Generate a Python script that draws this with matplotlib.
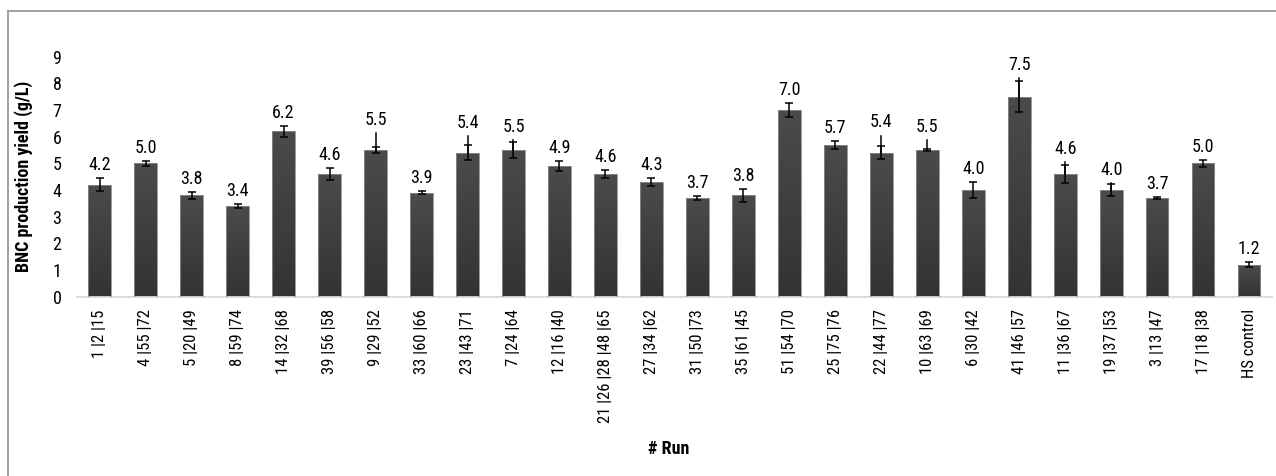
import numpy as np
import matplotlib
matplotlib.use("Agg")
from matplotlib import pyplot as plt
from matplotlib.lines import Line2D
from matplotlib.colors import LinearSegmentedColormap

plt.rcParams['font.family'] = ['Roboto Condensed', 'DejaVu Sans']

# runs grouped by identical conditions, plus the HS medium control
runs = ["1 |2 |15", "4 |55 |72", "5 |20 |49", "8 |59 |74", "14 |32 |68", "39 |56 |58",
        "9 |29 |52", "33 |60 |66", "23 |43 |71", "7 |24 |64", "12 |16 |40",
        "21 |26 |28 |48 |65", "27 |34 |62", "31 |50 |73", "35 |61 |45", "51 |54 |70",
        "25 |75 |76", "22 |44 |77", "10 |63 |69", "6 |30 |42", "41 |46 |57",
        "11 |36 |67", "19 |37 |53", "3 |13 |47", "17 |18 |38", "HS control"]
yield_gl = [4.2, 5.0, 3.8, 3.4, 6.2, 4.6, 5.5, 3.9, 5.4, 5.5, 4.9, 4.6, 4.3, 3.7, 3.8,
            7.0, 5.7, 5.4, 5.5, 4.0, 7.5, 4.6, 4.0, 3.7, 5.0, 1.2]
sd = [0.24, 0.09, 0.12, 0.07, 0.21, 0.21, 0.13, 0.05, 0.27, 0.30, 0.20, 0.15, 0.15,
      0.06, 0.25, 0.25, 0.15, 0.24, 0.05, 0.30, 0.57, 0.32, 0.23, 0.04, 0.13, 0.10]
# upper whisker without cap (None = no extra line)
whisker_top = [None, None, None, None, None, None, 6.12, None, 6.03, 5.88, None, None,
               None, None, None, None, None, 6.04, 5.88, None, 8.2, 5.04, 4.27, None,
               None, None]

fig = plt.figure(figsize=(12.76, 4.76), dpi=100)
ax = fig.add_axes([0.0601, 0.3767, 0.9369, 0.5042])

x = np.arange(len(runs))
width = 0.49
bars = ax.bar(x, yield_gl, width, facecolor='none', edgecolor='#8c8c8c', linewidth=0.6, zorder=3)

# vertical shading inside each bar
grad = np.linspace(0, 1, 256).reshape(-1, 1)
shade = LinearSegmentedColormap.from_list('shade', ['#4b4b4b', '#333333'])
for b in bars:
    im = ax.imshow(grad, extent=[b.get_x(), b.get_x() + b.get_width(), 0, b.get_height()],
                   cmap=shade, aspect='auto', origin='upper', zorder=2)
    im.set_clip_path(b)

ax.errorbar(x, yield_gl, yerr=sd, fmt='none', ecolor='black', elinewidth=1.1,
            capsize=3.2, capthick=1.1, zorder=4)
for i, w in enumerate(whisker_top):
    if w is not None:
        ax.plot([i, i], [yield_gl[i], w], color='black', lw=1.1, zorder=4)

for i, v in enumerate(yield_gl):
    top = v + sd[i]
    if whisker_top[i] is not None:
        top = max(top, whisker_top[i])
    ax.annotate("%.1f" % v, (i, top), xytext=(0, 3), textcoords='offset points',
                ha='center', va='bottom', fontsize=13, color='black')

ax.set_xlim(-0.5, len(runs) - 0.5)
ax.set_ylim(0, 9)
ax.set_yticks(range(0, 10))
ax.set_xticks(x)
ax.set_xticklabels(runs, rotation=90, fontsize=12)
ax.tick_params(axis='y', length=0, pad=11, labelsize=13)
ax.tick_params(axis='x', length=0, pad=9)

for s in ['top', 'right', 'left']:
    ax.spines[s].set_visible(False)
ax.spines['bottom'].set_color('#d9d9d9')
ax.spines['bottom'].set_linewidth(1.3)

ax.set_ylabel("BNC production yield (g/L)", fontsize=13, fontweight='bold')
ax.yaxis.set_label_coords(-0.0366, 0.5)
ax.set_xlabel("# Run", fontsize=13, fontweight='bold')
ax.xaxis.set_label_coords(0.495, -0.597)

# outer chart frame
fig.add_artist(Line2D([0.0063, 1.0], [0.977, 0.977], color='#999999', lw=1.3, transform=fig.transFigure))
fig.add_artist(Line2D([0.0063, 0.0063], [0.0, 0.977], color='#999999', lw=1.3, transform=fig.transFigure))

fig.savefig("out.png", dpi=100)
